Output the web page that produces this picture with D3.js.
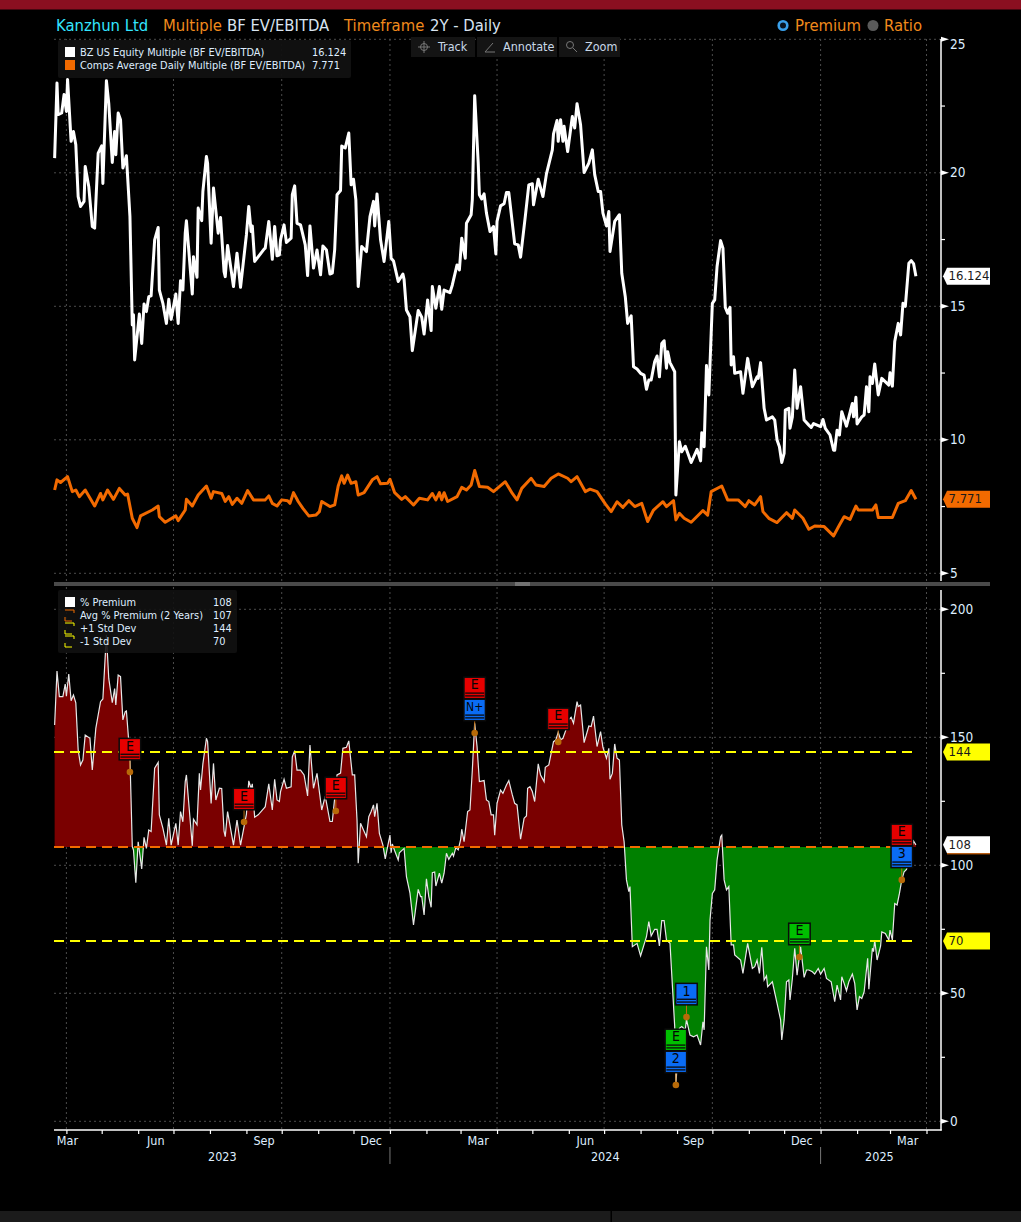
<!DOCTYPE html>
<html><head><meta charset="utf-8">
<style>
html,body{margin:0;padding:0;background:#000;overflow:hidden}
svg{display:block}
text{font-family:"DejaVu Sans Condensed","DejaVu Sans",sans-serif}
</style>
<script src="https://d3js.org/d3.v7.min.js"></script>
</head><body><svg id="c" width="1021" height="1222"></svg>
<script>
// [calendar days since 2023-03-22, value]
const bzPoints=[[0,20.55],[2,23.36],[3,22.18],[6,22.24],[8,22.93],[10,22.3],[11,23.49],[14,21.18],[16,21.55],[18,21.05],[20,19.11],[22,18.74],[25,18.93],[26,20.24],[29,19.49],[32,17.99],[34,17.93],[37,20.74],[40,21.01],[41,19.6],[44,23.45],[46,22.6],[49,20.39],[51,21.55],[52,20.68],[54,22.24],[56,21.99],[58,20.18],[61,20.64],[64,18.36],[66,14.3],[67,14.68],[68,12.99],[72,14.71],[74,13.61],[76,15.09],[78,14.8],[80,15.36],[82,15.39],[85,17.49],[88,17.95],[89,15.61],[92,15.11],[95,14.36],[97,15.26],[99,14.51],[103,15.46],[105,14.36],[107,15.96],[109,15.61],[111,17.74],[112,18.2],[117,15.46],[118,16.86],[121,16.09],[122,18.68],[125,18.21],[126,19.3],[129,20.61],[130,20.36],[133,17.36],[135,19.43],[139,17.74],[141,18.33],[144,16.3],[145,16.11],[147,17.28],[152,15.74],[155,16.99],[158,15.71],[163,17.68],[165,18.74],[167,17.8],[168,18.01],[170,16.68],[178,17.14],[179,17.18],[182,18.18],[185,16.76],[187,17.99],[189,16.89],[191,16.93],[192,17.49],[195,18.05],[197,17.39],[201,17.55],[202,19.18],[204,19.51],[206,18.11],[209,18.05],[213,17.3],[215,16.15],[217,18.01],[220,16.43],[223,17.11],[226,16.18],[228,17.26],[231,17.11],[234,16.21],[236,16.24],[238,17.11],[240,19.18],[243,19.34],[244,21.0],[247,20.93],[250,21.49],[252,19.55],[254,19.76],[256,18.99],[258,15.74],[261,17.24],[265,17.05],[268,18.36],[271,18.93],[272,18.01],[274,19.21],[277,17.49],[280,16.68],[284,18.18],[286,16.8],[288,16.7],[292,15.93],[296,16.21],[297,16.0],[299,14.86],[302,14.61],[304,13.34],[309,14.84],[312,14.59],[314,13.96],[317,15.24],[320,14.09],[321,15.74],[324,14.93],[327,15.74],[329,14.89],[331,15.61],[336,15.51],[338,15.8],[342,16.55],[344,16.36],[346,17.55],[349,16.8],[350,18.11],[354,18.43],[355,19.0],[357,22.89],[360,20.36],[361,19.18],[363,19.02],[365,19.21],[367,18.49],[370,17.8],[373,17.99],[375,16.96],[376,18.18],[379,18.76],[382,18.84],[384,19.26],[386,19.26],[391,17.34],[394,17.3],[396,16.84],[400,18.36],[403,19.55],[406,19.59],[407,18.8],[411,19.76],[415,19.11],[418,19.96],[423,20.86],[424,21.46],[427,21.96],[428,21.18],[430,21.99],[432,21.18],[433,21.74],[436,20.8],[440,22.11],[442,21.68],[444,22.59],[447,21.8],[450,20.01],[454,20.36],[457,20.86],[459,19.93],[462,19.3],[464,19.3],[466,18.49],[469,18.01],[471,18.55],[472,17.05],[476,18.18],[480,18.43],[482,16.24],[485,15.36],[487,14.36],[490,14.64],[492,12.74],[495,12.65],[498,12.49],[501,12.42],[503,11.89],[505,12.24],[507,12.24],[510,12.93],[512,13.14],[514,12.36],[516,13.61],[518,13.71],[520,12.68],[521,13.3],[523,12.89],[527,12.55],[528,7.93],[531,9.93],[533,9.55],[536,9.76],[541,9.15],[546,9.64],[549,9.21],[550,10.26],[552,9.74],[554,12.78],[556,11.68],[558,13.99],[559,15.11],[561,15.24],[563,16.49],[566,17.46],[568,17.18],[570,14.96],[572,14.74],[574,14.96],[575,12.8],[577,13.11],[578,12.49],[583,12.55],[585,11.74],[589,13.05],[593,11.99],[597,12.36],[598,12.3],[600,12.89],[603,11.18],[605,10.74],[610,10.86],[612,10.74],[614,9.99],[616,9.74],[618,9.15],[620,9.49],[621,11.11],[624,11.18],[625,10.43],[627,10.86],[629,12.61],[631,11.18],[634,11.99],[637,10.74],[641,10.55],[643,10.46],[645,10.61],[648,10.55],[651,10.49],[653,10.76],[655,10.43],[659,10.18],[662,9.61],[663,9.61],[665,10.36],[667,10.18],[669,11.05],[673,10.51],[678,11.36],[679,10.86],[681,11.59],[682,10.59],[686,10.86],[688,10.93],[690,11.99],[692,11.05],[693,12.36],[695,12.11],[697,12.84],[700,11.68],[703,12.3],[709,12.05],[710,12.51],[712,12.01],[714,13.68],[717,14.36],[719,13.93],[721,15.11],[723,15.0],[726,16.61],[728,16.71],[730,16.6],[732,16.124]];
const compsPoints=[[0,8.12],[2,8.5],[5,8.4],[11,8.62],[15,8.06],[18,8.12],[21,7.87],[26,8.12],[34,7.52],[39,7.99],[41,7.75],[45,8.12],[50,7.77],[55,8.18],[60,7.93],[62,7.97],[66,7.06],[70,6.71],[73,7.15],[83,7.37],[88,7.52],[89,7.12],[94,6.91],[103,7.15],[105,6.97],[111,7.37],[112,7.77],[117,7.52],[122,7.93],[129,8.27],[133,7.81],[135,8.06],[142,7.99],[145,7.69],[148,7.87],[151,7.58],[155,7.81],[159,7.62],[164,8.1],[169,7.75],[179,7.75],[182,7.9],[185,7.62],[189,7.52],[193,7.75],[198,7.72],[200,7.62],[203,8.02],[207,7.69],[211,7.43],[216,7.15],[222,7.18],[225,7.31],[227,7.69],[234,7.5],[238,7.56],[241,8.27],[244,8.65],[246,8.37],[249,8.68],[252,8.37],[256,8.43],[258,7.93],[263,8.02],[270,8.5],[274,8.62],[277,8.35],[283,8.37],[285,8.52],[289,8.02],[295,7.77],[298,7.87],[305,7.56],[310,7.81],[317,7.75],[321,7.99],[324,7.75],[327,8.02],[329,7.75],[331,8.02],[334,7.69],[342,7.87],[346,8.22],[350,8.12],[354,8.31],[357,8.85],[361,8.25],[368,8.22],[373,8.06],[383,8.43],[389,7.99],[393,7.75],[397,8.18],[405,8.56],[409,8.31],[416,8.25],[422,8.56],[428,8.72],[436,8.56],[439,8.43],[444,8.62],[451,8.06],[455,8.15],[461,8.06],[468,7.6],[473,7.31],[478,7.68],[483,7.47],[488,7.72],[493,7.5],[499,7.62],[504,6.94],[509,7.37],[517,7.68],[520,7.5],[526,7.72],[528,7.0],[531,7.25],[535,7.06],[541,6.91],[551,7.35],[555,7.18],[558,8.06],[567,8.27],[572,7.75],[581,7.75],[587,7.5],[590,7.72],[595,7.56],[600,7.87],[602,7.31],[607,7.06],[614,6.9],[622,7.27],[627,7.06],[629,7.37],[636,7.06],[641,6.65],[646,6.77],[654,6.75],[662,6.4],[667,6.81],[671,7.12],[676,7.02],[681,7.52],[683,7.37],[695,7.37],[698,7.56],[700,7.09],[712,7.09],[717,7.62],[723,7.72],[728,8.1],[732,7.771]];
const premiumPoints=[[0,154.8],[2,175.9],[4,165.9],[7,165.9],[9,170.8],[10,166.1],[12,174.7],[14,164.3],[16,166.5],[18,163.5],[20,145.1],[22,139.2],[24,141.1],[26,150.9],[30,149.6],[32,137.2],[35,153.5],[39,163.9],[41,165],[44,190],[46,173],[49,163.5],[51,169],[52,162.6],[54,174.3],[56,173.7],[58,156.8],[60,160],[61,160.3],[64,142.4],[66,107.3],[67,106],[69,93.2],[71,109.2],[74,98.6],[76,110.9],[78,106.6],[80,113.8],[82,113.2],[85,137.9],[88,140.2],[89,119.7],[92,114.5],[95,107.9],[97,118.4],[99,107.9],[103,116.4],[105,107.9],[107,121],[109,117],[111,132.7],[112,135.3],[117,107.6],[118,118],[121,115.8],[123,135.9],[124,129.4],[126,139.6],[129,149.6],[130,148.3],[133,124.2],[135,139.8],[137,125.5],[140,130.1],[142,130],[144,113.2],[145,111.2],[147,121],[152,107.9],[155,117.7],[158,107.9],[163,120],[165,133],[167,130],[168,131.8],[170,118.8],[173,119.7],[178,122.3],[179,122.9],[182,131.8],[185,121.6],[187,133.6],[189,125.5],[191,124.9],[192,128.8],[195,133.6],[197,130.1],[201,130.7],[202,142.4],[204,144.8],[206,137.2],[209,137.2],[212,135.3],[215,127.1],[217,147],[220,130.1],[223,135.9],[227,121.6],[230,127],[234,117.1],[236,117.1],[240,135.3],[243,136],[245,145.7],[248,146.1],[250,148.6],[253,135.3],[255,135.3],[257,117.7],[258,100.8],[260,116.4],[265,111.2],[267,119],[269,121],[271,123.6],[272,119],[274,124.2],[276,112.5],[279,107.9],[281,102.5],[283,107.3],[285,111.8],[286,104.9],[287,108.3],[289,105.7],[292,102.1],[293,104.9],[297,106.6],[299,95.6],[302,89.1],[305,76.7],[309,90.6],[311,87.8],[312,87.8],[314,80.6],[316,94.7],[318,87.8],[320,83.6],[321,97.1],[323,97.4],[324,91.9],[327,96.9],[329,93],[331,96.9],[333,104.7],[335,102.3],[338,104.7],[339,103.6],[341,106.9],[343,106],[345,109.9],[346,114.1],[348,109.2],[351,121],[353,121.6],[355,137.2],[357,155.5],[359,146.4],[361,132.7],[365,133.1],[367,125.5],[369,124.9],[371,119.7],[373,119.7],[374,111.8],[376,124.2],[379,129.4],[381,128.1],[384,131.4],[386,133.1],[389,127.5],[391,124.2],[393,123.6],[396,110.2],[399,118.4],[401,119.3],[402,130.1],[404,130.7],[406,128.8],[408,124.9],[411,139.6],[413,135.3],[416,132.7],[417,138.3],[420,139.2],[424,148.3],[426,149],[428,152],[430,149],[432,149.6],[435,153.5],[437,157],[439,157.8],[441,155.5],[444,163.9],[445,162],[447,162.6],[450,147.9],[454,154.4],[456,154.2],[458,158.3],[461,146.4],[464,152.2],[466,146.1],[469,141.8],[471,145.7],[472,133.6],[474,135.9],[476,147.4],[478,141.8],[480,141.1],[482,115.8],[484,109.2],[486,94.3],[488,89.7],[489,91.7],[491,68.2],[495,69.5],[498,64.6],[503,72.1],[505,78],[507,72.4],[510,75],[512,75],[514,68.5],[516,78.4],[518,78.4],[520,70.8],[523,69.5],[527,37],[528,14.3],[531,36.3],[533,37],[536,35.7],[537,39.8],[540,33.7],[543,33],[546,33.7],[549,29.8],[551,38.9],[552,35.7],[554,68.2],[556,59.1],[557,78.6],[559,89],[561,90.4],[563,102],[566,111.2],[567,111.8],[569,94.3],[571,90.4],[573,91.7],[575,68.9],[577,68.9],[578,65],[583,63],[585,57.8],[589,69.5],[593,59.7],[595,60.4],[597,63],[599,57.8],[601,68],[603,55.2],[605,56.8],[606,52.6],[610,54.5],[614,46.1],[617,39.6],[618,31.8],[620,39.6],[622,54.5],[624,55.2],[625,47.4],[627,55.8],[629,67.6],[631,57.1],[634,68.2],[637,56.2],[639,59.1],[641,59.1],[644,58.4],[646,57.5],[649,59.7],[651,57.5],[654,59.7],[656,55.8],[660,54.5],[663,46.7],[665,53.2],[668,47.4],[669,56.5],[671,53.9],[673,51],[675,54.5],[678,57.5],[680,53.9],[682,43.5],[684,48.7],[686,48],[688,50.6],[691,63.7],[692,51.6],[695,67.6],[696,66.3],[697,70.8],[699,63],[702,68.5],[703,74],[706,73.4],[709,70.8],[710,74.7],[712,70.8],[714,85.1],[716,84.5],[718,89],[720,94.3],[722,97.5],[724,98.4],[727,104],[730,109.5],[732,108]];
const compsYTicks=[5,10,15,20,25];
const premiumYTicks=[0,50,100,150,200];
const avgPremium=107.1, plusStd=144.3, minusStd=70.4;
const monthLabels=["Mar","Jun","Sep","Dec","Mar","Jun","Sep","Dec","Mar"];
const monthLabelDates=["2023-04-01","2023-06-16","2023-09-16","2023-12-16","2024-03-16","2024-06-15","2024-09-15","2024-12-16","2025-03-16"];
const yearLabels=["2023","2024","2025"];
const yearStarts=["2023-03-22","2024-01-01","2025-01-01","2025-04-11"];
// events: day, value at the dot, stacked flags (top to bottom)
const events=[
 {day:64,v:136.4,flags:[["E","r"]]},
 {day:161,v:116.9,flags:[["E","r"]]},
 {day:239,v:121.2,flags:[["E","r"]]},
 {day:357,v:151.7,flags:[["E","r"],["N+","b"]]},
 {day:428,v:148.2,flags:[["E","r"]]},
 {day:528,v:14.2,flags:[["E","g"],["2","b"]]},
 {day:537,v:40.7,flags:[["1","b"]]},
 {day:633,v:64.2,flags:[["E","g"]]},
 {day:720,v:94.3,flags:[["E","r"],["3","b"]]}
];
const topLegend=[["BZ US Equity Multiple (BF EV/EBITDA)","16.124"],["Comps Average Daily Multiple (BF EV/EBITDA)","7.771"]];
const botLegend=[["% Premium","108"],["Avg % Premium (2 Years)","107"],["+1 Std Dev","144"],["-1 Std Dev","70"]];

const svg=d3.select("#c");
const U=s=>new Date(s+"T00:00:00Z");
const base=U("2023-03-22");
const dayDate=d=>d3.utcDay.offset(base,d);
const x=d3.scaleUtc().domain([U("2023-04-01"),U("2025-04-01")]).range([66.4,926.5]);
const yT=d3.scaleLinear().domain([5,25]).range([573.3,39.3]);
const yB=d3.scaleLinear().domain([0,200]).range([1121.3,609.3]);
const L=54,R=941;
const txtCol="#dfeeff";

// frame
svg.append("rect").attr("width",1021).attr("height",1222).attr("fill","#000");
svg.append("rect").attr("width",1021).attr("height",9.5).attr("fill","#8a0f20");
svg.append("rect").attr("y",1211).attr("width",1021).attr("height",11).attr("fill","#1b1b1b");
svg.append("rect").attr("x",610.5).attr("y",1211).attr("width",1.5).attr("height",11).attr("fill","#000");

// grid
const grid=svg.append("g").attr("stroke","#4c4c4c").attr("stroke-width",1).attr("stroke-dasharray","2,3").attr("fill","none");
const quarters=d3.utcMonth.range(U("2023-04-01"),U("2025-04-02"),3);
quarters.forEach(q=>{
  grid.append("line").attr("x1",x(q)).attr("x2",x(q)).attr("y1",39).attr("y2",581);
  grid.append("line").attr("x1",x(q)).attr("x2",x(q)).attr("y1",587).attr("y2",1130);
});
compsYTicks.forEach(v=>grid.append("line").attr("x1",L).attr("x2",R).attr("y1",yT(v)).attr("y2",yT(v)));
premiumYTicks.forEach(v=>grid.append("line").attr("x1",L).attr("x2",R).attr("y1",yB(v)).attr("y2",yB(v)));

// premium area
const defs=svg.append("defs");
defs.append("clipPath").attr("id","above").append("rect").attr("x",L).attr("y",587).attr("width",R-L).attr("height",yB(avgPremium)-587);
defs.append("clipPath").attr("id","below").append("rect").attr("x",L).attr("y",yB(avgPremium)).attr("width",R-L).attr("height",1130-yB(avgPremium));
const area=d3.area().x(d=>x(dayDate(d[0]))).y0(yB(avgPremium)).y1(d=>yB(d[1]));
svg.append("path").datum(premiumPoints).attr("d",area).attr("fill","#7a0000").attr("clip-path","url(#above)");
svg.append("path").datum(premiumPoints).attr("d",area).attr("fill","#008000").attr("clip-path","url(#below)");
const lineB=d3.line().x(d=>x(dayDate(d[0]))).y(d=>yB(d[1]));
svg.append("path").datum(premiumPoints).attr("d",lineB).attr("fill","none").attr("stroke","#e8e8e8").attr("stroke-width",1.2);

// reference lines
const lastX=x(dayDate(732));
[[avgPremium,"#f06c00"],[plusStd,"#ffff00"],[minusStd,"#ffff00"]].forEach(([v,c])=>{
  svg.append("line").attr("x1",L).attr("x2",lastX).attr("y1",yB(v)).attr("y2",yB(v))
    .attr("stroke",c).attr("stroke-width",2).attr("stroke-dasharray","10,6");
});

// top lines
const lineT=d3.line().x(d=>x(dayDate(d[0]))).y(d=>yT(d[1])).curve(d3.curveLinear);
svg.append("path").datum(compsPoints).attr("d",lineT).attr("fill","none").attr("stroke","#f26a00").attr("stroke-width",3).attr("stroke-linejoin","round");
svg.append("path").datum(bzPoints).attr("d",lineT).attr("fill","none").attr("stroke","#fff").attr("stroke-width",3).attr("stroke-linejoin","round");

// separator
svg.append("rect").attr("x",L).attr("y",582).attr("width",936).attr("height",4).attr("fill","#4a4a4a");
svg.append("rect").attr("x",515).attr("y",582.5).attr("width",15).attr("height",1).attr("fill","#999");
svg.append("rect").attr("x",515).attr("y",584.5).attr("width",15).attr("height",1).attr("fill","#999");

// y axes
function yAxis(scale,major,minor,y0,y1,labelDy){
  const g=svg.append("g");
  g.append("line").attr("x1",R).attr("x2",R).attr("y1",y0).attr("y2",y1).attr("stroke","#fff").attr("stroke-width",1.5);
  minor.forEach(v=>g.append("line").attr("x1",R).attr("x2",R+4).attr("y1",scale(v)).attr("y2",scale(v)).attr("stroke","#fff").attr("stroke-width",1.2));
  major.forEach(v=>{
    const y=scale(v);
    g.append("path").attr("d",`M${R},${y-2.5}L${R+8},${y}L${R},${y+2.5}Z`).attr("fill","#fff");
    g.append("text").attr("x",R+9).attr("y",y+(labelDy(v))).attr("font-size",13.5).attr("fill",txtCol).attr("dominant-baseline","middle").text(v);
  });
}
yAxis(yT,compsYTicks,[7.5,12.5,17.5,22.5],39,581,v=>v===25?5.5:0.5);
yAxis(yB,premiumYTicks,[25,75,125,175],590,1130.5,()=>0.5);

// x axis
const xg=svg.append("g").attr("transform","translate(0,1130)");
xg.call(d3.axisBottom(x).tickValues(d3.utcMonth.range(U("2023-04-01"),U("2025-04-02"))).tickSize(4).tickFormat(""));
xg.selectAll(".tick line").attr("stroke","#fff").attr("stroke-width",1.2);
xg.select(".domain").remove();
svg.append("line").attr("x1",L).attr("x2",R+.7).attr("y1",1130).attr("y2",1130).attr("stroke","#fff").attr("stroke-width",1.5);
monthLabels.forEach((m,i)=>svg.append("text").attr("x",x(U(monthLabelDates[i]))+(i===0?1:0)).attr("y",1144.5).attr("text-anchor","middle").attr("font-size",12.5).attr("fill",txtCol).text(m));
yearLabels.forEach((yr,i)=>{
  const a=x(U(yearStarts[i])),b=x(U(yearStarts[i+1]));
  svg.append("text").attr("x",(a+b)/2).attr("y",1161).attr("text-anchor","middle").attr("font-size",12.5).attr("fill",txtCol).text(yr);
  if(i>0) svg.append("line").attr("x1",a).attr("x2",a).attr("y1",1147).attr("y2",1164).attr("stroke","#777");
});

// value tags
function tag(yc,label,fill,under){
  const h=17,l=943,r=990;
  svg.append("path").attr("d",`M${l},${yc}L${l+4},${yc-h/2}H${r}V${yc+h/2}H${l+4}Z`).attr("fill",fill);
  svg.append("text").attr("x",948.5).attr("y",yc+.5).attr("font-size",13).attr("fill","#1a1a1a").attr("dominant-baseline","middle").text(label);
  if(under) svg.append("line").attr("x1",947).attr("x2",r).attr("y1",yc+h/2+.5).attr("y2",yc+h/2+.5).attr("stroke",under);
}
tag(yT(16.124),"16.124","#fff");
tag(yT(7.771),"7.771","#f26a00");
tag(yB(108),"108","#fff","#f06c00");
tag(yB(plusStd),"144","#ffff00");
tag(yB(minusStd),"70","#ffff00");

// event markers
const flagCol={r:"#e60000",g:"#00bf00",b:"#0a6cf5"};
const gm=svg.append("g");
events.forEach(ev=>{
  const cx=x(dayDate(ev.day)),cy=yB(ev.v);
  gm.append("line").attr("x1",cx).attr("x2",cx).attr("y1",cy).attr("y2",cy-14).attr("stroke","#c07010").attr("stroke-width",1);
  gm.append("circle").attr("cx",cx).attr("cy",cy).attr("r",3.3).attr("fill","#b86a08");
  const n=ev.flags.length;
  ev.flags.forEach(([t,k],i)=>{
    const yc=cy-23-(n-1-i)*22;
    gm.append("rect").attr("x",cx-11.5).attr("y",yc-11.5).attr("width",23).attr("height",23).attr("fill","#0b0b0b");
    gm.append("rect").attr("x",cx-10).attr("y",yc-10).attr("width",20).attr("height",20).attr("fill",flagCol[k]);
    gm.append("text").attr("x",cx).attr("y",yc-2.5).attr("text-anchor","middle").attr("dominant-baseline","middle").attr("font-size",t.length>1?12:14).attr("fill","#050505").text(t);
    gm.append("rect").attr("x",cx-9.5).attr("y",yc+4.5).attr("width",19).attr("height",1.3).attr("fill","#0a0a0a");
    gm.append("rect").attr("x",cx-9.5).attr("y",yc+7.3).attr("width",19).attr("height",1.3).attr("fill","#0a0a0a");
  });
});

// legends
svg.append("rect").attr("x",58).attr("y",40).attr("width",293).attr("height",38).attr("rx",2).attr("fill","#111").attr("fill-opacity",.95);
topLegend.forEach(([t,v],i)=>{
  const y=53+i*13;
  svg.append("rect").attr("x",65).attr("y",y-6).attr("width",10).attr("height",10).attr("fill",i?"#f26a00":"#fff");
  svg.append("text").attr("x",80).attr("y",y).attr("font-size",10.9).attr("fill",txtCol).attr("dominant-baseline","middle").text(t);
  svg.append("text").attr("x",312).attr("y",y).attr("font-size",10.9).attr("fill",txtCol).attr("dominant-baseline","middle").text(v);
});
svg.append("rect").attr("x",58).attr("y",590).attr("width",179).attr("height",63).attr("rx",2).attr("fill","#111").attr("fill-opacity",.9);
botLegend.forEach(([t,v],i)=>{
  const y=603+i*13;
  if(i===0) svg.append("rect").attr("x",65).attr("y",y-6).attr("width",10).attr("height",10).attr("fill","#fff");
  else{
    const c=i===1?"#f06c00":"#ffff00";
    svg.append("path").attr("d",`M65,${y-6}H74V${y-3}M65,${y+1}V${y+5}H72`).attr("fill","none").attr("stroke",c).attr("stroke-width",1);
  }
  svg.append("text").attr("x",80).attr("y",y).attr("font-size",10.9).attr("fill",txtCol).attr("dominant-baseline","middle").text(t);
  svg.append("text").attr("x",213).attr("y",y).attr("font-size",10.9).attr("fill",txtCol).attr("dominant-baseline","middle").text(v);
});

// toolbar
[[411,64,"Track",438],[477,80,"Annotate",503],[559,61,"Zoom",585]].forEach(([xx,w,t,tx])=>{
  svg.append("rect").attr("x",xx).attr("y",37).attr("width",w).attr("height",20).attr("fill","#141414");
  svg.append("text").attr("x",tx).attr("y",47).attr("font-size",12.5).attr("fill","#c8d8e8").attr("dominant-baseline","middle").text(t);
});
const ic=svg.append("g").attr("stroke","#777").attr("fill","none").attr("stroke-width",1);
ic.append("circle").attr("cx",424).attr("cy",47).attr("r",3.5);
ic.append("path").attr("d","M424,41V53M418,47H430");
ic.append("path").attr("d","M485,52L493,43M485,52H495");
ic.append("circle").attr("cx",570).attr("cy",45).attr("r",3.5);
ic.append("path").attr("d","M573,48L577,52");

// header
const hdr=[[56,"Kanzhun Ltd","#33e6ff"],[163,"Multiple","#f08a1c"],[227,"BF EV/EBITDA","#d8e4f0"],[344,"Timeframe","#f08a1c"],[430,"2Y - Daily","#d8e4f0"],[795,"Premium","#f08a1c"],[884,"Ratio","#f08a1c"]];
hdr.forEach(([xx,t,c])=>svg.append("text").attr("x",xx).attr("y",26).attr("font-size",16.5).attr("fill",c).attr("dominant-baseline","middle").text(t));
svg.append("circle").attr("cx",783).attr("cy",25.5).attr("r",4.3).attr("fill","#0a1420").attr("stroke","#3aa0ea").attr("stroke-width",2.6);
svg.append("circle").attr("cx",873).attr("cy",25.5).attr("r",5.5).attr("fill","#5a5a5a");
</script></body></html>
